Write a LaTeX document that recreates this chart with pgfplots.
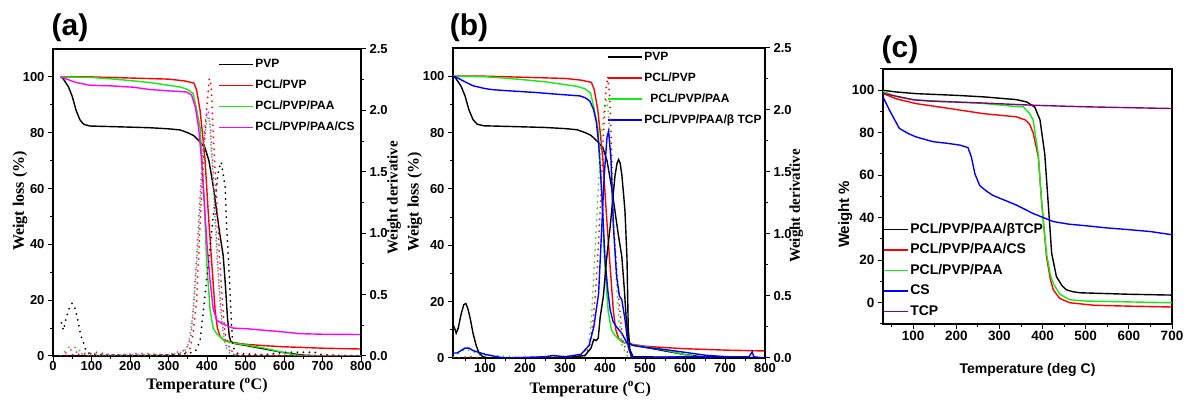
\documentclass[border=0pt]{standalone}
\usepackage{fontspec}
\setmainfont{Liberation Sans}
\newfontfamily\serif{Liberation Serif}
\usepackage{pgfplots}
\pgfplotsset{compat=1.18}
\definecolor{cgreen}{RGB}{20,235,20}
\definecolor{cmag}{RGB}{255,0,255}
\definecolor{cred}{RGB}{255,0,0}
\definecolor{cblue}{RGB}{0,0,255}
\definecolor{cpur}{RGB}{128,0,128}
\tikzset{dots/.style={line width=2pt, dash pattern=on 0pt off 6pt, line cap=round},
  crv/.style={line width=1.4pt}}
\pgfplotsset{
  base/.style={scale only axis, axis line style={line width=1.3pt},
    tick style={line width=1pt, black}, major tick length=5pt, minor tick length=3pt,
    tick align=outside,
    ticklabel style={font=\fontsize{13}{13}\selectfont\bfseries},
    /pgf/number format/assume math mode=true,
    clip=true},
  main/.style={base, xtick pos=bottom, ytick pos=left,
    xticklabel style={inner sep=0.5pt}},
  deriv/.style={base, axis x line=none, axis y line*=right, ymin=0, ymax=2.5,
    ytick={0,0.5,...,2.5}, minor y tick num=1,
    yticklabel style={/pgf/number format/.cd, fixed, fixed zerofill, precision=1, assume math mode=true},
    ylabel={\serif\bfseries Weight derivative},
    ylabel style={font=\fontsize{15}{15}\selectfont, anchor=center}},
  leg/.style={legend cell align=left,
    legend style={draw=none, fill=none, inner sep=0pt, row sep=6pt,
      nodes={inner sep=1.5pt, text height=9pt, text depth=3pt},
      font=\fontsize{12}{12}\selectfont\bfseries},
    legend image code/.code={\draw[##1, line width=1.6pt] (0pt,0pt) -- (34pt,0pt);}}
}
\begin{document}
\begin{tikzpicture}
% ===================== (a) =====================
\begin{axis}[main, leg, at={(53pt,45pt)}, anchor=south west, width=308pt, height=307pt,
  xmin=0, xmax=800, ymin=0, ymax=110,
  xtick={0,100,...,800}, minor x tick num=1,
  ytick={0,20,...,100}, minor y tick num=1,
  xlabel={\serif\bfseries Temperature (\textsuperscript{o}C)},
  ylabel={\serif\bfseries Weigt loss (\%)},
  xlabel style={font=\fontsize{16}{16}\selectfont, inner sep=0pt, at={(axis description cs:0.5,-0.097)}, anchor=center},
  ylabel style={font=\fontsize{16}{16}\selectfont, at={(axis description cs:-0.107,0.505)}, anchor=center},
  legend style={at={(axis description cs:0.536,0.975)}, anchor=north west}]
\addplot[crv, black] coordinates {(20,100)(25,99.6)(30,98.6)(40,96.5)(50,93)(60,88)(70,84.6)(80,83)(96,82.4)(150,82.2)(200,82)(250,81.8)(300,81.4)(330,81)(350,80)(365,79)(380,77)(395,74.5)(405,70)(416,61)(425,52)(433,44)(442,36)(448,25)(453,14)(458,7)(462,5.2)(470,4.5)(500,3.8)(550,2.5)(600,1.2)(650,0.3)(700,0)(800,0)};
\addlegendentry{PVP}
\addplot[crv, cred] coordinates {(20,100)(100,100)(200,99.6)(300,99.2)(340,98.6)(360,98)(366,97.8)(373,95.3)(382,88)(388,80)(395,70)(403,52)(412,34)(421,16.5)(427,10)(434,7)(445,5.5)(460,5)(500,4.2)(550,3.7)(600,3.3)(700,2.8)(800,2.5)};
\addlegendentry{PCL/PVP}
\addplot[crv, cgreen] coordinates {(20,100)(100,99.8)(150,99.3)(200,98.7)(250,98)(300,97)(330,96.4)(350,95.5)(364,94)(372,89)(382,82)(392,58)(399,34)(408,16.5)(416,10)(425,8)(440,6)(460,4.8)(500,4)(550,2.8)(600,1.2)(625,0.5)(650,0)(800,0)};
\addlegendentry{PCL/PVP/PAA}
\addplot[crv, cmag] coordinates {(20,100)(40,99)(60,98)(96,97)(150,96.8)(209,96.3)(250,95.5)(300,95)(347,94.6)(360,93.5)(370,89)(378,82)(386,70)(393,55)(400,40)(408,27)(416,17)(425,12.9)(440,11.5)(468,10)(500,9.8)(550,9.2)(600,8.6)(641,8)(700,7.8)(800,7.7)};
\addlegendentry{PCL/PVP/PAA/CS}
\end{axis}
\begin{axis}[deriv, at={(53pt,45pt)}, anchor=south west, width=308pt, height=307pt,
  xmin=0, xmax=800,
  ylabel style={at={(axis description cs:1.107,0.515)}}]
\addplot[dots, black] coordinates {(22,0.27)(27,0.21)(32,0.28)(38,0.35)(45,0.41)(50,0.43)(56,0.40)(62,0.33)(67,0.25)(72,0.17)(80,0.10)(86,0.04)(95,0.02)(120,0.01)(200,0.005)(300,0.01)(350,0.02)(370,0.04)(382,0.12)(395,0.5)(406,0.82)(416,1.13)(429,1.5)(437,1.58)(447,1.38)(451,1.05)(456,0.78)(460,0.5)(464,0.23)(468,0.07)(480,0.02)(550,0.01)(600,0.03)(650,0.03)(680,0.03)(700,0.01)(800,0)};
\addplot[dots, cred] coordinates {(20,0)(50,0.01)(100,0.02)(112,0.03)(150,0.01)(300,0.01)(340,0.02)(355,0.05)(364,0.18)(373,0.45)(381,1.0)(390,1.55)(399,2.0)(406,2.26)(411,2.2)(416,1.82)(425,1.28)(434,0.73)(441,0.4)(447,0.18)(460,0.05)(480,0.01)(800,0)};
\addplot[dots, cgreen] coordinates {(20,0)(40,0.07)(60,0.07)(75,0.03)(100,0.01)(300,0.01)(340,0.03)(352,0.1)(362,0.3)(370,0.6)(378,1.0)(386,1.45)(394,1.8)(401,1.95)(407,1.9)(413,1.6)(420,1.15)(428,0.7)(436,0.35)(445,0.12)(455,0.03)(480,0)(800,0)};
\addplot[dots, cmag] coordinates {(20,0)(45,0.05)(70,0.02)(100,0)(230,0.02)(300,0.01)(345,0.05)(358,0.15)(366,0.45)(374,0.85)(382,1.3)(390,1.7)(397,1.95)(403,2.0)(409,1.85)(416,1.5)(424,1.0)(432,0.55)(440,0.25)(450,0.08)(465,0.02)(480,0)(800,0)};
\end{axis}
% ===================== (b) =====================
\begin{axis}[main, leg, at={(453pt,43pt)}, anchor=south west, width=312pt, height=310pt,
  xmin=20, xmax=800, ymin=0, ymax=110,
  xtick={100,200,...,800}, minor xtick={50,150,...,750},
  ytick={0,20,...,100}, minor y tick num=1,
  xlabel={\serif\bfseries Temperature (\textsuperscript{o}C)},
  ylabel={\serif\bfseries Weigt loss (\%)},
  xlabel style={font=\fontsize{16}{16}\selectfont, inner sep=0pt, at={(axis description cs:0.44,-0.1)}, anchor=center},
  ylabel style={font=\fontsize{16}{16}\selectfont, at={(axis description cs:-0.122,0.503)}, anchor=center},
  legend style={at={(axis description cs:0.494,0.995)}, anchor=north west}]
\addplot[crv, black] coordinates {(20,100)(25,99.6)(30,98.6)(40,96.5)(50,93)(60,88)(70,84.6)(80,83)(96,82.4)(150,82.2)(200,82)(250,81.8)(300,81.4)(330,81)(350,80)(365,79)(380,77)(395,74.5)(405,70)(416,61)(425,52)(433,44)(442,36)(448,25)(453,14)(458,7)(462,5.2)(470,4.5)(500,3.8)(550,2.5)(600,1.2)(650,0.3)(700,0)(800,0)};
\addlegendentry{PVP}
\addplot[crv, cred] coordinates {(20,100)(100,100)(200,99.6)(300,99.2)(340,98.6)(360,98)(366,97.8)(373,95.3)(382,88)(388,80)(395,70)(403,52)(412,34)(421,16.5)(427,10)(434,7)(445,5.5)(460,5)(500,4.2)(550,3.7)(600,3.3)(700,2.8)(800,2.5)};
\addlegendentry{PCL/PVP}
\addplot[crv, cgreen] coordinates {(20,100)(100,99.8)(150,99.3)(200,98.7)(250,98)(300,97)(330,96.4)(350,95.5)(364,94)(372,89)(382,82)(392,58)(399,34)(408,16.5)(416,10)(425,8)(440,6)(460,4.8)(500,4)(550,2.8)(600,1.2)(625,0.5)(650,0)(800,0)};
\addlegendentry{\hspace{6pt}PCL/PVP/PAA}
\addplot[crv, cblue] coordinates {(20,100)(30,99.5)(50,98)(70,96.6)(100,95.6)(120,95.2)(150,94.9)(228,94.2)(280,93.6)(337,93)(350,92.4)(362,91.2)(371,88.3)(378,84)(384,76.4)(392,58.6)(400,35)(407,24)(413,17)(420,13)(429,11)(442,8.8)(454,5.5)(470,4.5)(500,3.8)(550,3)(600,2)(650,1)(700,0.5)(800,0)};
\addlegendentry{PCL/PVP/PAA/β TCP}
\end{axis}
\begin{axis}[deriv, at={(453pt,43pt)}, anchor=south west, width=312pt, height=310pt,
  xmin=20, xmax=800,
  ylabel style={at={(axis description cs:1.10,0.49)}}]
\addplot[dots, cred] coordinates {(20,0)(60,0.01)(100,0)(300,0.01)(350,0.02)(362,0.1)(372,0.35)(380,0.7)(388,1.2)(396,1.8)(402,2.15)(407,2.27)(412,2.1)(418,1.5)(421,1.1)(429,0.73)(437,0.38)(445,0.12)(460,0.02)(480,0)(800,0)};
\addplot[dots, cgreen] coordinates {(20,0.01)(50,0.07)(65,0.06)(90,0.02)(130,0.02)(200,0)(340,0.02)(352,0.06)(358,0.09)(366,0.31)(374,0.79)(382,1.3)(390,1.75)(397,2.0)(403,2.08)(408,2.0)(414,1.65)(420,1.2)(427,0.7)(435,0.3)(443,0.1)(455,0.02)(470,0)(800,0)};
\addplot[crv, black] coordinates {(20,0.27)(24,0.24)(28,0.20)(33,0.24)(40,0.35)(47,0.43)(52,0.44)(57,0.40)(63,0.32)(70,0.20)(78,0.10)(85,0.04)(95,0.01)(110,0)(300,0)(350,0.02)(365,0.08)(372,0.15)(378,0.14)(383,0.16)(388,0.33)(396,0.5)(404,0.8)(413,1.06)(420,1.3)(425,1.47)(430,1.57)(434,1.6)(438,1.57)(442,1.48)(447,1.3)(450,1.18)(455,0.8)(458,0.25)(462,0.07)(470,0.01)(800,0)};
\addplot[crv, cblue] coordinates {(20,0.04)(30,0.04)(40,0.06)(50,0.08)(60,0.08)(70,0.06)(80,0.05)(100,0.03)(130,0.01)(150,0)(250,0.01)(270,0.02)(300,0.01)(340,0.03)(360,0.1)(372,0.25)(384,0.52)(392,1.06)(398,1.47)(405,1.78)(409,1.83)(415,1.6)(421,1.06)(429,0.66)(436,0.5)(442,0.47)(450,0.31)(458,0.09)(465,0.02)(470,0)(600,0.01)(700,0.01)(760,0.01)(768,0.05)(772,0.01)(800,0)};
\end{axis}
% ===================== (c) =====================
\begin{axis}[main, at={(883pt,77pt)}, anchor=south west, width=289pt, height=255pt,
  xmin=30, xmax=700, ymin=-10, ymax=110,
  xtick={100,200,...,700}, minor xtick={50,150,...,650},
  ytick={0,20,...,100}, minor ytick={-10,10,...,110},
  ticklabel style={font=\fontsize{13.5}{13.5}\selectfont\bfseries},
  xticklabel style={inner sep=2pt},
  xlabel={\bfseries Temperature (deg C)},
  ylabel={\bfseries Weight \%},
  xlabel style={font=\fontsize{14}{14}\selectfont, at={(axis description cs:0.5,-0.18)}, anchor=center},
  ylabel style={font=\fontsize{15}{15}\selectfont, at={(axis description cs:-0.131,0.43)}, anchor=center},
  legend cell align=left,
  legend style={draw=none, fill=none, inner sep=0pt, row sep=4pt,
    at={(axis description cs:0,0.404)}, anchor=north west,
    nodes={inner sep=1.5pt, text height=10.5pt, text depth=3pt},
    font=\fontsize{14}{14}\selectfont\bfseries},
  legend image code/.code={\draw[#1, line width=1.6pt] (0pt,0pt) -- (24pt,0pt);}]
\addplot[crv, black] coordinates {(30,100)(60,99.2)(107,98.4)(200,97.6)(262,96.9)(339,95.6)(363,94.5)(382,92)(394,86)(405,70)(413,46.8)(421,23.3)(432,12.3)(445,8)(455,6.1)(470,5.2)(486,4.7)(550,4.3)(600,4.0)(700,3.6)};
\addlegendentry{PCL/PVP/PAA/βTCP}
\addplot[crv, cred] coordinates {(30,98.5)(60,96)(107,93.7)(185,91.4)(262,89)(339,87.5)(360,86)(370,84)(378,80)(390,68.7)(398,46.8)(409,21.7)(418,11)(425,6)(440,2)(463,0)(520,-1.2)(600,-1.6)(700,-2)};
\addlegendentry{PCL/PVP/PAA/CS}
\addplot[crv, cgreen] coordinates {(30,99.5)(60,97)(107,95.4)(200,94.5)(262,93.8)(330,92.5)(355,92.2)(370,89)(378,86)(390,70)(398,46.8)(409,23.3)(418,13)(425,9)(440,4)(463,1.4)(500,0.8)(600,0.4)(700,0)};
\addlegendentry{PCL/PVP/PAA}
\addplot[crv, cblue] coordinates {(30,96.9)(45,90.6)(68,82)(90,79.5)(107,78)(146,75.8)(180,75)(208,74.2)(227,73)(235,68.5)(243,60.7)(254,55.2)(270,52.5)(285,50.5)(339,46)(378,42)(425,38.2)(460,37)(502,36.2)(550,35.2)(600,34.4)(650,33.5)(700,32)};
\addlegendentry{CS}
\addplot[crv, cpur] coordinates {(30,98.5)(68,96.9)(100,95.5)(146,94.8)(262,94)(348,93.2)(400,92.8)(502,92.2)(600,91.8)(700,91.4)};
\addlegendentry{TCP}
\end{axis}
% panel letters
\node[font=\fontsize{30}{30}\selectfont\bfseries] at (70pt,373pt) {(a)};
\node[font=\fontsize{30}{30}\selectfont\bfseries] at (469pt,373pt) {(b)};
\node[font=\fontsize{30}{30}\selectfont\bfseries] at (900pt,351pt) {(c)};
\pgfresetboundingbox
\useasboundingbox (0pt,0pt) rectangle (1188pt,401pt);
\end{tikzpicture}
\end{document}
